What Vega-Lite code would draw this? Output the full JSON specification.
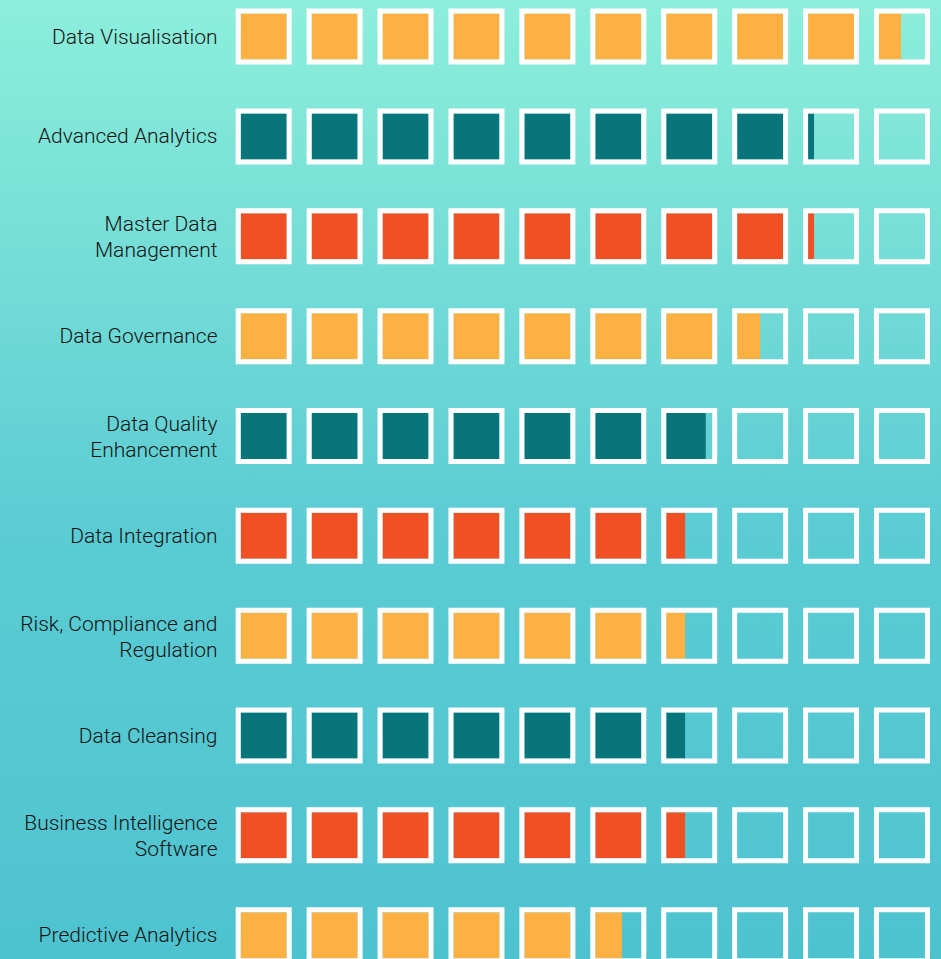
{
  "$schema": "https://vega.github.io/schema/vega-lite/v6.json",
  "width": 941,
  "height": 959,
  "autosize": "none",
  "padding": 0,
  "config": {
    "view": {
      "stroke": null,
      "fill": {"gradient": "linear", "x1": 0, "y1": 0, "x2": 0, "y2": 1,
        "stops": [{"offset": 0, "color": "#8DEEDB"}, {"offset": 0.55, "color": "#5BCCD3"}, {"offset": 1, "color": "#4EC3D0"}]}
    }
  },
  "data": {"values": [
    {"category": "Data Visualisation", "cell": 0, "share": 1},
    {"category": "Data Visualisation", "cell": 1, "share": 1},
    {"category": "Data Visualisation", "cell": 2, "share": 1},
    {"category": "Data Visualisation", "cell": 3, "share": 1},
    {"category": "Data Visualisation", "cell": 4, "share": 1},
    {"category": "Data Visualisation", "cell": 5, "share": 1},
    {"category": "Data Visualisation", "cell": 6, "share": 1},
    {"category": "Data Visualisation", "cell": 7, "share": 1},
    {"category": "Data Visualisation", "cell": 8, "share": 1},
    {"category": "Data Visualisation", "cell": 9, "share": 0.48},
    {"category": "Advanced Analytics", "cell": 0, "share": 1},
    {"category": "Advanced Analytics", "cell": 1, "share": 1},
    {"category": "Advanced Analytics", "cell": 2, "share": 1},
    {"category": "Advanced Analytics", "cell": 3, "share": 1},
    {"category": "Advanced Analytics", "cell": 4, "share": 1},
    {"category": "Advanced Analytics", "cell": 5, "share": 1},
    {"category": "Advanced Analytics", "cell": 6, "share": 1},
    {"category": "Advanced Analytics", "cell": 7, "share": 1},
    {"category": "Advanced Analytics", "cell": 8, "share": 0.13},
    {"category": "Advanced Analytics", "cell": 9, "share": 0},
    {"category": "Master Data Management", "cell": 0, "share": 1},
    {"category": "Master Data Management", "cell": 1, "share": 1},
    {"category": "Master Data Management", "cell": 2, "share": 1},
    {"category": "Master Data Management", "cell": 3, "share": 1},
    {"category": "Master Data Management", "cell": 4, "share": 1},
    {"category": "Master Data Management", "cell": 5, "share": 1},
    {"category": "Master Data Management", "cell": 6, "share": 1},
    {"category": "Master Data Management", "cell": 7, "share": 1},
    {"category": "Master Data Management", "cell": 8, "share": 0.13},
    {"category": "Master Data Management", "cell": 9, "share": 0},
    {"category": "Data Governance", "cell": 0, "share": 1},
    {"category": "Data Governance", "cell": 1, "share": 1},
    {"category": "Data Governance", "cell": 2, "share": 1},
    {"category": "Data Governance", "cell": 3, "share": 1},
    {"category": "Data Governance", "cell": 4, "share": 1},
    {"category": "Data Governance", "cell": 5, "share": 1},
    {"category": "Data Governance", "cell": 6, "share": 1},
    {"category": "Data Governance", "cell": 7, "share": 0.5},
    {"category": "Data Governance", "cell": 8, "share": 0},
    {"category": "Data Governance", "cell": 9, "share": 0},
    {"category": "Data Quality Enhancement", "cell": 0, "share": 1},
    {"category": "Data Quality Enhancement", "cell": 1, "share": 1},
    {"category": "Data Quality Enhancement", "cell": 2, "share": 1},
    {"category": "Data Quality Enhancement", "cell": 3, "share": 1},
    {"category": "Data Quality Enhancement", "cell": 4, "share": 1},
    {"category": "Data Quality Enhancement", "cell": 5, "share": 1},
    {"category": "Data Quality Enhancement", "cell": 6, "share": 0.86},
    {"category": "Data Quality Enhancement", "cell": 7, "share": 0},
    {"category": "Data Quality Enhancement", "cell": 8, "share": 0},
    {"category": "Data Quality Enhancement", "cell": 9, "share": 0},
    {"category": "Data Integration", "cell": 0, "share": 1},
    {"category": "Data Integration", "cell": 1, "share": 1},
    {"category": "Data Integration", "cell": 2, "share": 1},
    {"category": "Data Integration", "cell": 3, "share": 1},
    {"category": "Data Integration", "cell": 4, "share": 1},
    {"category": "Data Integration", "cell": 5, "share": 1},
    {"category": "Data Integration", "cell": 6, "share": 0.41},
    {"category": "Data Integration", "cell": 7, "share": 0},
    {"category": "Data Integration", "cell": 8, "share": 0},
    {"category": "Data Integration", "cell": 9, "share": 0},
    {"category": "Risk, Compliance and Regulation", "cell": 0, "share": 1},
    {"category": "Risk, Compliance and Regulation", "cell": 1, "share": 1},
    {"category": "Risk, Compliance and Regulation", "cell": 2, "share": 1},
    {"category": "Risk, Compliance and Regulation", "cell": 3, "share": 1},
    {"category": "Risk, Compliance and Regulation", "cell": 4, "share": 1},
    {"category": "Risk, Compliance and Regulation", "cell": 5, "share": 1},
    {"category": "Risk, Compliance and Regulation", "cell": 6, "share": 0.41},
    {"category": "Risk, Compliance and Regulation", "cell": 7, "share": 0},
    {"category": "Risk, Compliance and Regulation", "cell": 8, "share": 0},
    {"category": "Risk, Compliance and Regulation", "cell": 9, "share": 0},
    {"category": "Data Cleansing", "cell": 0, "share": 1},
    {"category": "Data Cleansing", "cell": 1, "share": 1},
    {"category": "Data Cleansing", "cell": 2, "share": 1},
    {"category": "Data Cleansing", "cell": 3, "share": 1},
    {"category": "Data Cleansing", "cell": 4, "share": 1},
    {"category": "Data Cleansing", "cell": 5, "share": 1},
    {"category": "Data Cleansing", "cell": 6, "share": 0.41},
    {"category": "Data Cleansing", "cell": 7, "share": 0},
    {"category": "Data Cleansing", "cell": 8, "share": 0},
    {"category": "Data Cleansing", "cell": 9, "share": 0},
    {"category": "Business Intelligence Software", "cell": 0, "share": 1},
    {"category": "Business Intelligence Software", "cell": 1, "share": 1},
    {"category": "Business Intelligence Software", "cell": 2, "share": 1},
    {"category": "Business Intelligence Software", "cell": 3, "share": 1},
    {"category": "Business Intelligence Software", "cell": 4, "share": 1},
    {"category": "Business Intelligence Software", "cell": 5, "share": 1},
    {"category": "Business Intelligence Software", "cell": 6, "share": 0.41},
    {"category": "Business Intelligence Software", "cell": 7, "share": 0},
    {"category": "Business Intelligence Software", "cell": 8, "share": 0},
    {"category": "Business Intelligence Software", "cell": 9, "share": 0},
    {"category": "Predictive Analytics", "cell": 0, "share": 1},
    {"category": "Predictive Analytics", "cell": 1, "share": 1},
    {"category": "Predictive Analytics", "cell": 2, "share": 1},
    {"category": "Predictive Analytics", "cell": 3, "share": 1},
    {"category": "Predictive Analytics", "cell": 4, "share": 1},
    {"category": "Predictive Analytics", "cell": 5, "share": 0.58},
    {"category": "Predictive Analytics", "cell": 6, "share": 0},
    {"category": "Predictive Analytics", "cell": 7, "share": 0},
    {"category": "Predictive Analytics", "cell": 8, "share": 0},
    {"category": "Predictive Analytics", "cell": 9, "share": 0}
  ]},
  "encoding": {
    "y": {
      "field": "category", "type": "nominal",
      "sort": ["Data Visualisation", "Advanced Analytics", "Master Data Management", "Data Governance", "Data Quality Enhancement", "Data Integration", "Risk, Compliance and Regulation", "Data Cleansing", "Business Intelligence Software", "Predictive Analytics"],
      "scale": {"range": [13.6, 958.2], "paddingInner": 0.5393, "paddingOuter": 0},
      "axis": {
        "title": null, "orient": "left", "offset": -221, "domain": false, "ticks": false, "grid": false,
        "labelPadding": 4, "labelFont": "Roboto", "labelFontSize": 21, "labelFontWeight": 300, "labelColor": "#141414",
        "labelLineHeight": 26, "labelLimit": 0,
        "labelOffset": {"condition": {"test": "length(datum.value) > 21", "value": -11}, "value": 1},
        "labelExpr": "datum.value == 'Master Data Management' ? ['Master Data', 'Management'] : datum.value == 'Data Quality Enhancement' ? ['Data Quality', 'Enhancement'] : datum.value == 'Risk, Compliance and Regulation' ? ['Risk, Compliance and', 'Regulation'] : datum.value == 'Business Intelligence Software' ? ['Business Intelligence', 'Software'] : datum.value"
      }
    },
    "x": {"field": "cell", "type": "quantitative", "scale": {"domain": [0, 10], "range": [240.7, 949.9], "nice": false, "zero": false}, "axis": null}
  },
  "layer": [
    {
      "mark": {"type": "rect", "x2Offset": {"expr": "datum.share * 46"}},
      "encoding": {
        "x2": {"field": "cell"},
        "color": {
          "field": "category", "type": "nominal", "legend": null,
          "scale": {
            "domain": ["Data Visualisation", "Advanced Analytics", "Master Data Management", "Data Governance", "Data Quality Enhancement", "Data Integration", "Risk, Compliance and Regulation", "Data Cleansing", "Business Intelligence Software", "Predictive Analytics"],
            "range": ["#FDB143", "#08757B", "#F15025", "#FDB143", "#08757B", "#F15025", "#FDB143", "#08757B", "#F15025", "#FDB143"]
          }
        }
      }
    },
    {
      "mark": {"type": "rect", "filled": false, "stroke": "#FFFFFF", "strokeWidth": 5, "xOffset": -2.5, "x2Offset": 48.5, "height": 51},
      "encoding": {"x2": {"field": "cell"}}
    }
  ]
}
